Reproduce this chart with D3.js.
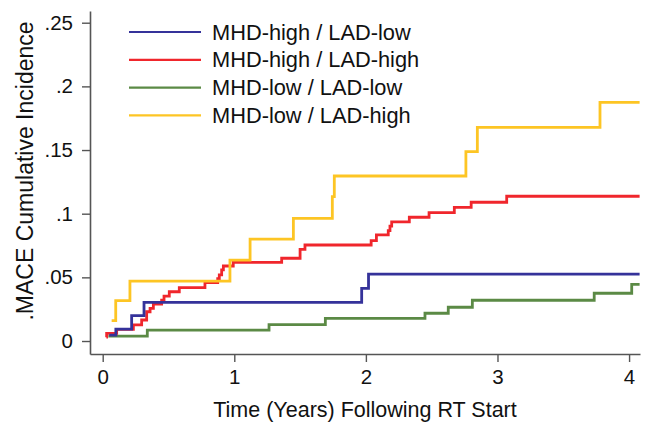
<!DOCTYPE html>
<html>
<head>
<meta charset="utf-8">
<script src="https://cdn.jsdelivr.net/npm/d3@7/dist/d3.min.js"></script>
<style>
  body { margin: 0; background: #fff; }
  svg text { font-family: "Liberation Sans", Arial, Helvetica, sans-serif; fill: #111; }
</style>
</head>
<body>
<div id="viz"></div>
<script>
// series names, in legend order
var seriesNames = ["MHD-high / LAD-low", "MHD-high / LAD-high", "MHD-low / LAD-low", "MHD-low / LAD-high"];
var seriesColors = ["#35329a", "#f0262c", "#5b8a45", "#fdc524"];

// step points (time in years, cumulative incidence)
var blueTimes  = [0.05, 0.10, 0.22, 0.314, 1.968, 2.02, 4.08];
var blueValues = [0.0047, 0.0094, 0.0199, 0.0304, 0.0414, 0.0526, 0.0526];

var redTimes  = [0.028, 0.03, 0.106, 0.233, 0.296, 0.334, 0.36, 0.385, 0.448, 0.466, 0.506, 0.582,
                 0.777, 0.874, 0.886, 0.904, 0.917, 0.992, 1.36, 1.5, 1.537, 2.04, 2.08, 2.17,
                 2.183, 2.196, 2.33, 2.48, 2.672, 2.8, 3.07, 4.08];
var redValues = [0.003, 0.006, 0.0092, 0.0126, 0.0165, 0.023, 0.0257, 0.029, 0.032, 0.0353, 0.0387, 0.042,
                 0.0458, 0.049, 0.052, 0.0558, 0.0589, 0.0618, 0.065, 0.072, 0.0754, 0.0788, 0.0833, 0.0867,
                 0.0903, 0.0935, 0.0972, 0.1008, 0.105, 0.109, 0.1137, 0.1137];

var greenTimes  = [0.043, 0.339, 1.264, 1.692, 2.449, 2.626, 2.809, 3.735, 4.02, 4.08];
var greenValues = [0.0039, 0.0086, 0.0128, 0.0178, 0.0218, 0.0265, 0.032, 0.0375, 0.0445, 0.0445];

var yellowTimes  = [0.068, 0.099, 0.207, 0.967, 1.12, 1.449, 1.745, 1.76, 2.76, 2.847, 3.779, 4.08];
var yellowValues = [0.016, 0.0317, 0.047, 0.0636, 0.080, 0.0964, 0.1134, 0.1296, 0.1487, 0.1678, 0.1875, 0.1875];

var xTicks = [0, 1, 2, 3, 4];
var yTicks = [0, 0.05, 0.1, 0.15, 0.2, 0.25];
var yTickLabels = ["0", ".05", ".1", ".15", ".2", ".25"];

var xTitle = "Time (Years) Following RT Start";
var yTitle = ".MACE Cumulative Incidence";

var width = 649, height = 422;
var tickFont = 20.5;

var x = d3.scaleLinear().domain([-0.0965, 4.083]).range([90, 640]);
var y = d3.scaleLinear().domain([-0.0102, 0.2592]).range([354, 11]);

var svg = d3.select('#viz')
  .append('svg')
    .attr('width', width)
    .attr('height', height);

function zipPts(ts, vs) {
  return ts.map(function(t, i) { return [t, vs[i]]; });
}

var series = [
  {name: seriesNames[0], color: seriesColors[0], pts: zipPts(blueTimes, blueValues)},
  {name: seriesNames[1], color: seriesColors[1], pts: zipPts(redTimes, redValues)},
  {name: seriesNames[2], color: seriesColors[2], pts: zipPts(greenTimes, greenValues)},
  {name: seriesNames[3], color: seriesColors[3], pts: zipPts(yellowTimes, yellowValues)}
];

var line = d3.line()
  .x(function(d) { return x(d[0]); })
  .y(function(d) { return y(d[1]); })
  .curve(d3.curveStepAfter);

// draw order: green, red, blue, yellow on top
[2, 1, 0, 3].forEach(function(i) {
  svg.append('path')
    .attr('d', line(series[i].pts))
    .attr('fill', 'none')
    .attr('stroke', series[i].color)
    .attr('stroke-width', 2.8)
    .attr('stroke-linejoin', 'miter');
});

// axes
var xAxis = d3.axisBottom(x).tickValues(xTicks).tickSize(8).tickSizeOuter(0).tickPadding(7)
  .tickFormat(d3.format('d'));
var gx = svg.append('g').attr('transform', 'translate(0,354)').call(xAxis);

var yAxis = d3.axisLeft(y).tickValues(yTicks).tickSize(8).tickSizeOuter(0).tickPadding(9)
  .tickFormat(function(d, i) { return yTickLabels[i]; });
var gy = svg.append('g').attr('transform', 'translate(90,0)').call(yAxis);

[gx, gy].forEach(function(g) {
  g.select('.domain').attr('stroke', '#555').attr('stroke-width', 1.6);
  g.selectAll('.tick line').attr('stroke', '#555').attr('stroke-width', 1.4);
  g.selectAll('.tick text')
    .style('font-family', '"Liberation Sans", Arial, sans-serif')
    .style('font-size', tickFont + 'px')
    .attr('fill', '#111');
});

// axis titles
svg.append('text')
  .attr('x', 365)
  .attr('y', 417)
  .attr('text-anchor', 'middle')
  .style('font-size', '21.5px')
  .text(xTitle);

svg.append('text')
  .attr('transform', 'translate(33,171) rotate(-90)')
  .attr('text-anchor', 'middle')
  .style('font-size', '23px')
  .text(yTitle);

// legend
var legend = svg.append('g').attr('transform', 'translate(129,32)');
series.forEach(function(s, i) {
  var row = legend.append('g').attr('transform', 'translate(0,' + (i * 27.8) + ')');
  row.append('line')
    .attr('x1', 0).attr('x2', 72)
    .attr('y1', 0).attr('y2', 0)
    .attr('stroke', s.color)
    .attr('stroke-width', 2.2);
  row.append('text')
    .attr('x', 83)
    .attr('y', 7.6)
    .style('font-size', '21.8px')
    .text(s.name);
});
</script>
</body>
</html>
